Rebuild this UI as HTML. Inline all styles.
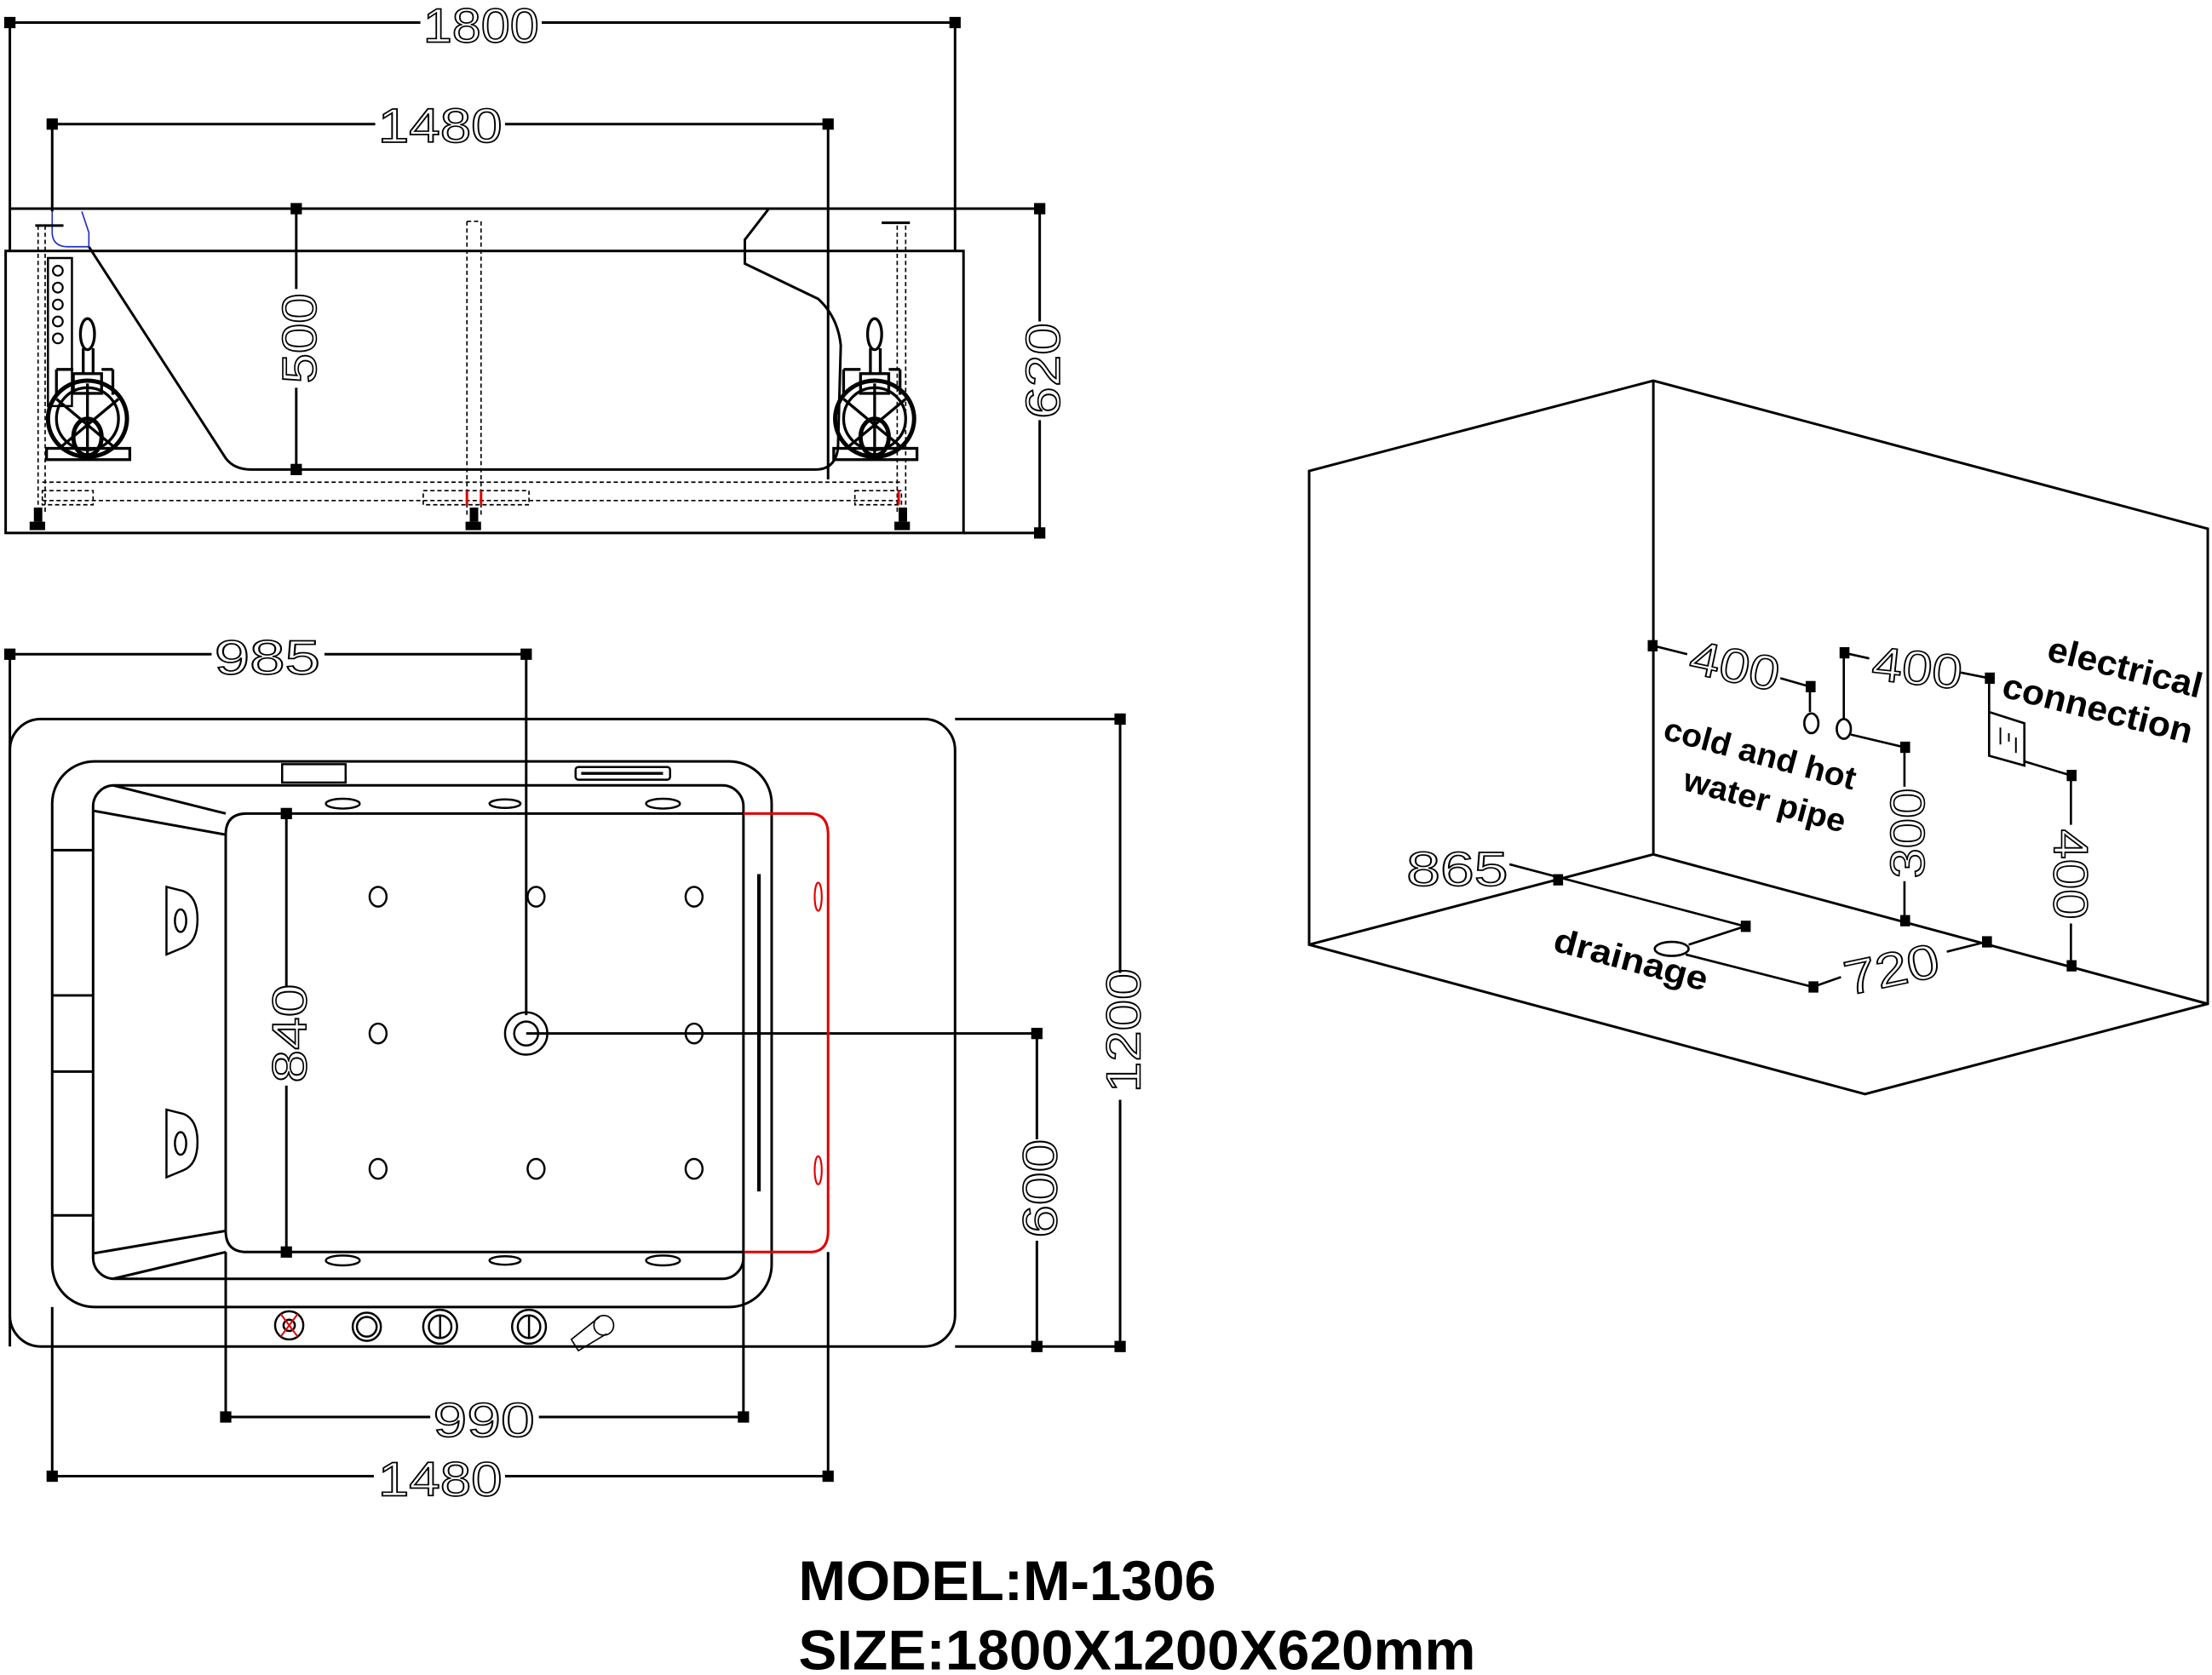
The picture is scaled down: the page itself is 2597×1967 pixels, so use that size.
<!DOCTYPE html>
<html><head><meta charset="utf-8"><style>
html,body{margin:0;padding:0;background:#fff}
svg{display:block}
.d{font-family:"Liberation Sans",sans-serif;font-size:34px;fill:none;stroke:#000;stroke-width:1}
.b{font-family:"Liberation Sans",sans-serif;font-weight:bold;fill:#000}
</style></head><body>
<svg width="2597" height="1967" viewBox="0 0 1568 1188" xmlns="http://www.w3.org/2000/svg" preserveAspectRatio="none">
<g stroke="#000" stroke-width="1.8" fill="none">
<!-- ===== ELEVATION ===== -->
<line x1="7" y1="16" x2="677" y2="16"/>
<line x1="7" y1="16" x2="7" y2="148"/><line x1="677" y1="16" x2="677" y2="148"/>
<line x1="37" y1="88" x2="587" y2="88"/>
<line x1="37" y1="88" x2="37" y2="150"/><line x1="587" y1="88" x2="587" y2="340"/>
<line x1="7" y1="148" x2="737" y2="148"/>
<line x1="7" y1="148" x2="7" y2="178"/><line x1="677" y1="148" x2="677" y2="178"/>
<rect x="4" y="178" width="679" height="200"/>
<line x1="683" y1="378" x2="737" y2="378"/>
<line x1="210" y1="148" x2="210" y2="205"/><line x1="210" y1="275" x2="210" y2="333"/>
<line x1="737" y1="148" x2="737" y2="228"/><line x1="737" y1="298" x2="737" y2="378"/>
<!-- basin -->
<path d="M63 175 L160 325 Q166 333 178 333 L578 333 Q592 333 594 318 L596 245 Q594 225 580 212 L528 187 L528 170 L545 148"/>
<path d="M37 150 L37 166 Q38 175 48 175 L63 175 L63 165 L58 150" stroke="#2030c0" stroke-width="1"/>
<line x1="25" y1="160" x2="45" y2="160"/><line x1="625" y1="158" x2="645" y2="158"/>
<g stroke-width="1" stroke-dasharray="3 2">
<line x1="27" y1="160" x2="27" y2="365"/><line x1="32" y1="160" x2="32" y2="365"/>
<line x1="331" y1="157" x2="331" y2="365"/><line x1="341" y1="157" x2="341" y2="365"/><line x1="331" y1="157" x2="341" y2="157"/>
<line x1="636" y1="160" x2="636" y2="365"/><line x1="642" y1="160" x2="642" y2="365"/>
<line x1="30" y1="342" x2="640" y2="342"/><line x1="30" y1="355" x2="640" y2="355"/>
<rect x="30" y="348" width="36" height="10"/><rect x="300" y="348" width="75" height="10"/><rect x="606" y="348" width="33" height="10"/>
</g>
<line x1="331" y1="348" x2="331" y2="358" stroke="#e00000"/><line x1="341" y1="348" x2="341" y2="358" stroke="#e00000"/>
<line x1="637" y1="348" x2="637" y2="358" stroke="#e00000"/>
<!-- control panel -->
<rect x="34" y="183" width="17" height="105" stroke-width="1.5"/>
<g stroke-width="1.3"><circle cx="41" cy="192" r="3.5"/><circle cx="41" cy="204" r="3.5"/><circle cx="41" cy="216" r="3.5"/><circle cx="41" cy="228" r="3.5"/><circle cx="41" cy="240" r="3.5"/></g>
<!-- pumps -->
<g id="pump" stroke-width="2">
<ellipse cx="62" cy="237" rx="5" ry="11"/>
<line x1="59" y1="247" x2="59" y2="265"/><line x1="66" y1="247" x2="66" y2="265"/>
<rect x="52" y="265" width="20" height="14"/>
<line x1="40" y1="262" x2="40" y2="280"/><line x1="80" y1="262" x2="80" y2="280"/><line x1="40" y1="262" x2="52" y2="262"/><line x1="72" y1="262" x2="80" y2="262"/>
<ellipse cx="62" cy="297" rx="28" ry="27" stroke-width="3"/>
<ellipse cx="62" cy="297" rx="22" ry="22"/>
<line x1="62" y1="272" x2="62" y2="322"/>
<line x1="40" y1="283" x2="82" y2="318"/><line x1="84" y1="283" x2="42" y2="318"/>
<ellipse cx="62" cy="310" rx="10" ry="13" stroke-width="3"/>
<rect x="33" y="318" width="59" height="8"/>
</g>
<use href="#pump" x="558"/>
<!-- legs -->
<g fill="#000" stroke="none">
<rect x="24" y="360" width="6" height="10"/><rect x="21" y="370" width="11" height="6"/>
<rect x="333" y="360" width="6" height="10"/><rect x="330" y="370" width="11" height="6"/>
<rect x="637" y="360" width="6" height="10"/><rect x="634" y="370" width="11" height="6"/>
</g>

<!-- ===== PLAN ===== -->
<line x1="7" y1="464" x2="373" y2="464"/>
<line x1="7" y1="464" x2="7" y2="955"/>
<line x1="373" y1="464" x2="373" y2="720"/>
<rect x="7" y="510" width="670" height="445" rx="22"/>
<line x1="677" y1="510" x2="794" y2="510"/><line x1="677" y1="955" x2="794" y2="955"/>
<line x1="794" y1="510" x2="794" y2="690"/><line x1="794" y1="780" x2="794" y2="955"/>
<line x1="373" y1="733" x2="735" y2="733"/>
<line x1="735" y1="733" x2="735" y2="808"/><line x1="735" y1="880" x2="735" y2="955"/>
<rect x="37" y="540" width="510" height="387" rx="30"/>
<rect x="66" y="557" width="461" height="350" rx="15"/>
<path d="M527 577 L175 577 Q160 577 160 592 L160 873 Q160 888 175 888 L527 888"/>
<line x1="80" y1="557" x2="160" y2="577"/><line x1="66" y1="575" x2="160" y2="592"/>
<line x1="80" y1="907" x2="160" y2="888"/><line x1="66" y1="889" x2="160" y2="873"/>
<line x1="37" y1="603" x2="66" y2="603"/><line x1="37" y1="706" x2="66" y2="706"/>
<line x1="37" y1="760" x2="66" y2="760"/><line x1="37" y1="862" x2="66" y2="862"/>
<path d="M527 577 L574 577 Q587 577 587 592 L587 873 Q587 888 574 888 L527 888" stroke="#e00000"/>
<line x1="37" y1="927" x2="37" y2="1047"/><line x1="587" y1="888" x2="587" y2="1047"/>
<line x1="160" y1="888" x2="160" y2="1005"/><line x1="527" y1="888" x2="527" y2="1005"/>
<line x1="160" y1="1005" x2="305" y2="1005"/><line x1="382" y1="1005" x2="527" y2="1005"/>
<line x1="37" y1="1047" x2="265" y2="1047"/><line x1="358" y1="1047" x2="587" y2="1047"/>
<line x1="203" y1="577" x2="203" y2="700"/><line x1="203" y1="770" x2="203" y2="888"/>
<line x1="538" y1="620" x2="538" y2="845" stroke-width="2.5"/>
<ellipse cx="580" cy="636" rx="2.5" ry="10" stroke="#e00000" stroke-width="1.3"/>
<ellipse cx="580" cy="830" rx="2.5" ry="10" stroke="#e00000" stroke-width="1.3"/>
<rect x="200" y="542" width="45" height="13" stroke-width="1.5"/>
<rect x="408" y="544" width="67" height="9" rx="2" stroke-width="1.5"/>
<line x1="412" y1="548.5" x2="470" y2="548.5" stroke-width="2"/>
<g stroke-width="1.5">
<ellipse cx="243" cy="570" rx="12" ry="3.5"/><ellipse cx="358" cy="570" rx="11" ry="3"/><ellipse cx="470" cy="570" rx="12" ry="3.5"/>
<ellipse cx="243" cy="894" rx="12" ry="3.5"/><ellipse cx="358" cy="894" rx="11" ry="3"/><ellipse cx="470" cy="894" rx="12" ry="3.5"/>
<ellipse cx="268" cy="636" rx="6" ry="7"/><ellipse cx="380" cy="636" rx="6" ry="7"/><ellipse cx="492" cy="636" rx="6" ry="7"/>
<ellipse cx="268" cy="733" rx="6" ry="7"/><ellipse cx="492" cy="733" rx="6" ry="7"/>
<ellipse cx="268" cy="829" rx="6" ry="7"/><ellipse cx="380" cy="829" rx="6" ry="7"/><ellipse cx="492" cy="829" rx="6" ry="7"/>
<circle cx="373" cy="733" r="15"/><circle cx="373" cy="733" r="8.5"/>
<!-- pillows -->
<path d="M118 629 L118 677 L130 672 Q140 668 140 652 Q140 636 130 632 Z"/><ellipse cx="128" cy="653" rx="4" ry="8"/>
<path d="M118 787 L118 835 L130 830 Q140 826 140 810 Q140 794 130 790 Z"/><ellipse cx="128" cy="811" rx="4" ry="8"/>
<!-- controls -->
<circle cx="205" cy="940" r="10"/><circle cx="205" cy="940" r="4"/>
<circle cx="260" cy="941" r="10"/><circle cx="260" cy="941" r="7"/>
<circle cx="312" cy="941" r="12"/><circle cx="312" cy="941" r="8"/><line x1="312" y1="933" x2="312" y2="949"/>
<circle cx="375" cy="941" r="12"/><circle cx="375" cy="941" r="8"/><line x1="375" y1="933" x2="375" y2="949"/>
</g>
<path d="M199 932 L211 948 M211 932 L199 948" stroke="#e00000" stroke-width="1.2"/>
<g stroke-width="1"><circle cx="428" cy="940" r="7"/><path d="M425 934 L405 950 L410 958 L430 946"/></g>

<!-- ===== ROOM BOX ===== -->
<path d="M928 334 L1172 270 L1565 375 L1565 712 L1322 776 L928 670 Z"/>
<line x1="1172" y1="270" x2="1172" y2="606"/>
<line x1="1172" y1="606" x2="928" y2="670"/>
<line x1="1172" y1="606" x2="1565" y2="712"/>
<g stroke-width="1.6">
<line x1="1172" y1="458" x2="1196" y2="464"/><line x1="1262" y1="481" x2="1283" y2="487"/>
<line x1="1283" y1="487" x2="1283" y2="505"/><ellipse cx="1284" cy="513" rx="5" ry="7"/>
<line x1="1307" y1="463" x2="1307" y2="510"/><ellipse cx="1307" cy="517" rx="5" ry="7"/>
<line x1="1307" y1="463" x2="1325" y2="467"/><line x1="1390" y1="477" x2="1410" y2="481"/>
<line x1="1410" y1="481" x2="1410" y2="505"/>
<line x1="1312" y1="521" x2="1350" y2="530"/>
<line x1="1350" y1="530" x2="1350" y2="558"/><line x1="1350" y1="625" x2="1350" y2="653"/>
<path d="M1410 505 L1435 513 L1435 543 L1410 536 Z"/>
<path d="M1418 516 L1418 528 M1424 520 L1424 526 M1429 523 L1429 534" stroke-width="1.2"/>
<line x1="1435" y1="540" x2="1468" y2="550"/>
<line x1="1468" y1="550" x2="1468" y2="585"/><line x1="1468" y1="655" x2="1468" y2="685"/>
<line x1="1070" y1="613" x2="1237" y2="657"/>
<line x1="1237" y1="657" x2="1197" y2="670"/><ellipse cx="1185" cy="673" rx="12" ry="5"/>
<line x1="1195" y1="677" x2="1285" y2="700"/>
<line x1="1285" y1="700" x2="1305" y2="693"/><line x1="1380" y1="675" x2="1408" y2="668"/>
</g>
</g>
<!-- squares -->
<g fill="#000">
<rect x="3" y="12" width="8" height="8"/><rect x="673" y="12" width="8" height="8"/>
<rect x="33" y="84" width="8" height="8"/><rect x="583" y="84" width="8" height="8"/>
<rect x="206" y="144" width="8" height="8"/><rect x="206" y="329" width="8" height="8"/>
<rect x="733" y="144" width="8" height="8"/><rect x="733" y="374" width="8" height="8"/>
<rect x="3" y="460" width="8" height="8"/><rect x="369" y="460" width="8" height="8"/>
<rect x="790" y="506" width="8" height="8"/><rect x="790" y="951" width="8" height="8"/>
<rect x="731" y="729" width="8" height="8"/><rect x="731" y="951" width="8" height="8"/>
<rect x="199" y="573" width="8" height="8"/><rect x="199" y="884" width="8" height="8"/>
<rect x="156" y="1001" width="8" height="8"/><rect x="523" y="1001" width="8" height="8"/>
<rect x="33" y="1043" width="8" height="8"/><rect x="583" y="1043" width="8" height="8"/>
<rect x="1168" y="454" width="7" height="8"/><rect x="1280" y="483" width="7" height="8"/>
<rect x="1304" y="459" width="7" height="8"/><rect x="1407" y="477" width="7" height="8"/>
<rect x="1347" y="526" width="7" height="8"/><rect x="1347" y="649" width="7" height="8"/>
<rect x="1465" y="546" width="7" height="8"/><rect x="1465" y="681" width="7" height="8"/>
<rect x="1101" y="620" width="7" height="8"/><rect x="1234" y="653" width="7" height="8"/>
<rect x="1282" y="696" width="7" height="8"/><rect x="1405" y="664" width="7" height="8"/>
</g>
<!-- dimension text -->
<g class="d">
<rect x="298" y="2" width="86" height="30" fill="#fff" stroke="none"/>
<text x="300" y="30" textLength="82" lengthAdjust="spacingAndGlyphs">1800</text>
<rect x="266" y="72" width="92" height="32" fill="#fff" stroke="none"/>
<text x="268" y="101" textLength="88" lengthAdjust="spacingAndGlyphs">1480</text>
<text transform="translate(224,272) rotate(-90)" textLength="64" lengthAdjust="spacingAndGlyphs">500</text>
<text transform="translate(751,297) rotate(-90)" textLength="68" lengthAdjust="spacingAndGlyphs">620</text>
<rect x="150" y="450" width="80" height="30" fill="#fff" stroke="none"/>
<text x="152" y="478" textLength="75" lengthAdjust="spacingAndGlyphs">985</text>
<text transform="translate(217,768) rotate(-90)" textLength="70" lengthAdjust="spacingAndGlyphs">840</text>
<text transform="translate(808,775) rotate(-90)" textLength="88" lengthAdjust="spacingAndGlyphs">1200</text>
<text transform="translate(749,878) rotate(-90)" textLength="70" lengthAdjust="spacingAndGlyphs">600</text>
<text x="307" y="1019" textLength="72" lengthAdjust="spacingAndGlyphs">990</text>
<text x="268" y="1061" textLength="88" lengthAdjust="spacingAndGlyphs">1480</text>
<text transform="translate(1196,477) rotate(12)" textLength="64" lengthAdjust="spacingAndGlyphs">400</text>
<text transform="translate(1326,482) rotate(6)" textLength="64" lengthAdjust="spacingAndGlyphs">400</text>
<text transform="translate(1364,623) rotate(-90)" textLength="64" lengthAdjust="spacingAndGlyphs">300</text>
<text transform="translate(1456,588) rotate(90)" textLength="64" lengthAdjust="spacingAndGlyphs">400</text>
<text x="997" y="628" textLength="72" lengthAdjust="spacingAndGlyphs">865</text>
<text transform="translate(1310,706) rotate(-12)" textLength="68" lengthAdjust="spacingAndGlyphs">720</text>
</g>
<g class="b">
<text transform="translate(1450,468) rotate(14)" font-size="25" textLength="112" lengthAdjust="spacingAndGlyphs">electrical</text>
<text transform="translate(1418,494) rotate(14)" font-size="25" textLength="138" lengthAdjust="spacingAndGlyphs">connection</text>
<text transform="translate(1178,524) rotate(15)" font-size="23" textLength="140" lengthAdjust="spacingAndGlyphs">cold and hot</text>
<text transform="translate(1192,560) rotate(15)" font-size="23" textLength="118" lengthAdjust="spacingAndGlyphs">water pipe</text>
<text transform="translate(1100,674) rotate(15)" font-size="24" textLength="112" lengthAdjust="spacingAndGlyphs">drainage</text>
<text x="566" y="1135" font-size="40" textLength="296" lengthAdjust="spacingAndGlyphs">MODEL:M-1306</text>
<text x="566" y="1184" font-size="40" textLength="480" lengthAdjust="spacingAndGlyphs">SIZE:1800X1200X620mm</text>
</g>
</svg>
</body></html>
